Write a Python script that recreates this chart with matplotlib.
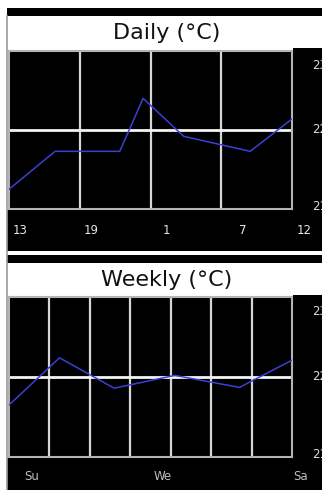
import numpy as np
import matplotlib
matplotlib.use("Agg")
import matplotlib.pyplot as plt
from matplotlib.patches import Rectangle
from matplotlib.lines import Line2D
from matplotlib.transforms import offset_copy, blended_transform_factory

W, H = 322, 490

# Daily: hours after 13:00
daily_hours = [0, 3.75, 9, 10.9, 14.2, 19.6, 23]
daily_temp = [21.25, 21.73, 21.73, 22.4, 21.92, 21.73, 22.14]
daily_labels = ['13', '19', '1', '7', '12']
daily_label_pos = [0.9, 6.7, 12.8, 19.0, 24.0]

# Weekly: days after Sunday
weekly_days = [0, 1.25, 2.6, 4.1, 5.7, 7]
weekly_temp = [21.65, 22.24, 21.86, 22.02, 21.87, 22.21]
weekly_labels = ['Su', 'We', 'Sa']
weekly_label_pos = [0.55, 3.8, 7.2]

y_ticks = [21, 22, 23]
y_offsets = [3, 1, -14]  # label nudges in px

fig = plt.figure(figsize=(W / 100, H / 100), dpi=100)
fig.patch.set_facecolor('white')


def rect(x0, y0, x1, y1, color):
    fig.add_artist(Rectangle((x0 / W, 1 - y1 / H), (x1 - x0) / W, (y1 - y0) / H,
                             transform=fig.transFigure, facecolor=color,
                             edgecolor='none', zorder=-1))


def draw_panel(top, plot_top, plot_bottom, bottom, label_y, title, xs, ys,
               xmax, ncells, labels, label_pos, label_color):
    rect(7, top + 8, W, top + 16, 'black')
    rect(293, top + 48, W, bottom, 'black')
    rect(7, plot_bottom + 1, W, bottom, 'black')
    fig.text(167 / W, 1 - (top + 33) / H, title, ha='center', va='center',
             fontsize=16, color='#111111')

    ax = fig.add_axes([9 / W, 1 - plot_bottom / H, 283 / W,
                       (plot_bottom - plot_top) / H])
    ax.set_facecolor('black')
    ax.set_xlim(0, xmax)
    ax.set_ylim(21, 23)
    ax.set_xticks([])
    ax.set_yticks([])
    for s in ax.spines.values():
        s.set_color('#b4b4b4')
        s.set_linewidth(1.5)
    for g in np.linspace(0, xmax, ncells + 1)[1:-1]:
        ax.axvline(g, color='#d6d6d6', lw=1.6, zorder=1)
    ax.axhline(22, color='#f4f4f4', lw=2, zorder=1)
    ax.plot(xs, ys, color='#3b40d4', lw=1.1, zorder=3)

    for v, off in zip(y_ticks, y_offsets):
        tr = offset_copy(ax.get_yaxis_transform(), fig=fig, y=off, units='dots')
        ax.text(1.07, v, str(v), transform=tr, color='#dddddd', fontsize=8.5,
                ha='left', va='center', clip_on=False)

    tr = blended_transform_factory(ax.transData, fig.transFigure)
    for lab, p in zip(labels, label_pos):
        ax.text(p, 1 - label_y / H, lab, transform=tr, color=label_color,
                fontsize=8.5, ha='center', va='center', clip_on=False)
    return ax


draw_panel(0, 51, 209, 251, 231, 'Daily (°C)', daily_hours, daily_temp,
           23, 4, daily_labels, daily_label_pos, '#e6e6e6')
draw_panel(247, 297, 457, 490, 476, 'Weekly (°C)', weekly_days, weekly_temp,
           7, 7, weekly_labels, weekly_label_pos, '#bdbdbd')

fig.add_artist(Line2D([7 / W, 7 / W], [0, 1 - 16 / H], color='#9a9a9a', lw=1.2,
                      transform=fig.transFigure, zorder=-0.5))

fig.savefig('out.png', dpi=100, facecolor=fig.get_facecolor())
